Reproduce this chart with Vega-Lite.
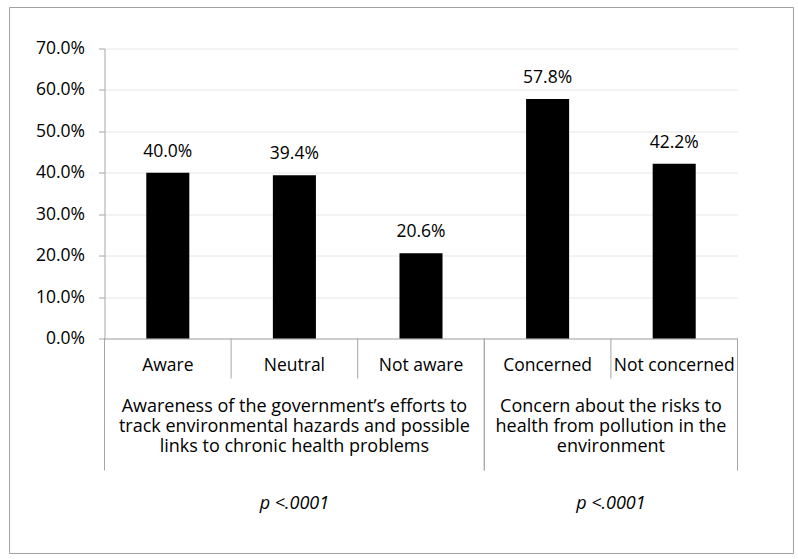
{
  "$schema": "https://vega.github.io/schema/vega-lite/v6.json",
  "width": 633,
  "height": 290,
  "padding": {"left": 8.5, "top": 6.5, "right": 4, "bottom": 5},
  "background": "white",
  "config": {
    "view": {"stroke": null},
    "font": "Open Sans",
    "text": {"font": "Open Sans", "fontSize": 17.5, "color": "black"}
  },
  "datasets": {
    "bars": [
      {"category": "Aware", "group": "Awareness", "value": 0.400},
      {"category": "Neutral", "group": "Awareness", "value": 0.394},
      {"category": "Not aware", "group": "Awareness", "value": 0.206},
      {"category": "Concerned", "group": "Concern", "value": 0.578},
      {"category": "Not concerned", "group": "Concern", "value": 0.422}
    ],
    "groups": [
      {"label": ["Awareness of the government’s efforts to", "track environmental hazards and possible", "links to chronic health problems"], "start": 0, "end": 3, "p": "p <.0001"},
      {"label": ["Concern about the risks to", "health from pollution in the", "environment"], "start": 3, "end": 5, "p": "p <.0001"}
    ],
    "cuts": [{"at": 1}, {"at": 2}, {"at": 4}]
  },
  "resolve": {"scale": {"x": "independent"}, "axis": {"x": "independent"}},
  "layer": [
    {
      "data": {"name": "bars"},
      "layer": [
        {
          "mark": {"type": "bar", "color": "black", "clip": false},
          "encoding": {
            "x": {"field": "category", "type": "nominal", "sort": null,
              "scale": {"paddingInner": 0.66, "paddingOuter": 0.33},
              "axis": {"title": null, "labels": false, "ticks": false, "domain": true, "domainColor": "#a6a6a6", "grid": false}},
            "y": {"field": "value", "type": "quantitative",
              "scale": {"domain": [0, 0.7], "nice": false, "zero": true},
              "axis": {"title": null, "values": [0, 0.1, 0.2, 0.3, 0.4, 0.5, 0.6, 0.7], "format": ".1%",
                "grid": true, "gridColor": "#e6e6e6", "domainColor": "#a6a6a6", "tickColor": "#a6a6a6",
                "tickSize": 6, "labelPadding": 14, "labelFontSize": 17.5, "labelColor": "black", "labelFont": "Open Sans"}}
          }
        },
        {
          "mark": {"type": "text", "dy": -21, "baseline": "middle", "clip": false},
          "encoding": {
            "x": {"field": "category", "type": "nominal", "sort": null},
            "y": {"field": "value", "type": "quantitative"},
            "text": {"field": "value", "type": "quantitative", "format": ".1%"}
          }
        },
        {
          "mark": {"type": "text", "baseline": "middle", "clip": false},
          "encoding": {
            "x": {"field": "category", "type": "nominal", "sort": null},
            "y": {"datum": -0.0652, "type": "quantitative"},
            "text": {"field": "category", "type": "nominal"}
          }
        }
      ]
    },
    {
      "data": {"name": "groups"},
      "layer": [
        {
          "data": {"values": [{}]},
          "mark": {"type": "rect", "fillOpacity": 0, "stroke": "#a0a0a0", "strokeWidth": 1, "clip": false},
          "encoding": {
            "x": {"datum": -0.75, "type": "quantitative", "scale": {"domain": [0, 5], "nice": false, "zero": false}, "axis": null},
            "x2": {"datum": 5.442},
            "y": {"datum": 0.799, "type": "quantitative"},
            "y2": {"datum": -0.519}
          }
        },
        {
          "mark": {"type": "rule", "color": "#a6a6a6", "strokeWidth": 1, "clip": false},
          "encoding": {
            "x": {"field": "start", "type": "quantitative", "axis": null},
            "y": {"datum": 0, "type": "quantitative"},
            "y2": {"datum": -0.3186}
          }
        },
        {
          "mark": {"type": "rule", "color": "#a6a6a6", "strokeWidth": 1, "clip": false},
          "encoding": {
            "x": {"field": "end", "type": "quantitative", "axis": null},
            "y": {"datum": 0, "type": "quantitative"},
            "y2": {"datum": -0.3186}
          }
        },
        {
          "data": {"name": "cuts"},
          "mark": {"type": "rule", "color": "#a6a6a6", "strokeWidth": 1, "clip": false},
          "encoding": {
            "x": {"field": "at", "type": "quantitative", "axis": null},
            "y": {"datum": 0, "type": "quantitative"},
            "y2": {"datum": -0.0966}
          }
        },
        {
          "transform": [{"calculate": "(datum.start + datum.end) / 2", "as": "mid"}],
          "mark": {"type": "text", "baseline": "middle", "fontSize": 18, "lineHeight": 20, "clip": false},
          "encoding": {
            "x": {"field": "mid", "type": "quantitative", "axis": null},
            "y": {"datum": -0.1665, "type": "quantitative"},
            "text": {"field": "label"}
          }
        },
        {
          "transform": [{"calculate": "(datum.start + datum.end) / 2", "as": "mid"}],
          "mark": {"type": "text", "baseline": "middle", "fontStyle": "italic", "fontSize": 18, "clip": false},
          "encoding": {
            "x": {"field": "mid", "type": "quantitative", "axis": null},
            "y": {"datum": -0.3983, "type": "quantitative"},
            "text": {"field": "p", "type": "nominal"}
          }
        }
      ]
    }
  ]
}
